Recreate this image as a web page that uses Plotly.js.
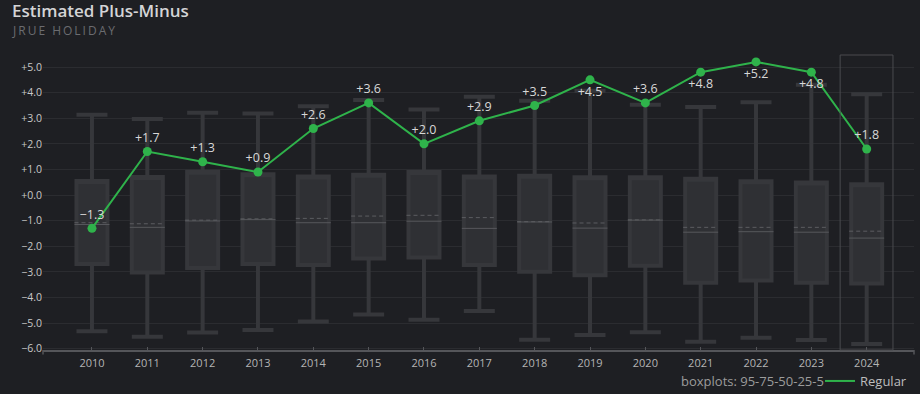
<!DOCTYPE html>
<html>
<head>
<meta charset="utf-8">
<script src="https://cdn.plot.ly/plotly-3.0.1.min.js"></script>
<style>
  html, body { margin: 0; padding: 0; background: #1e1f23; }
  #chart { width: 920px; height: 394px; }
</style>
</head>
<body>
<div id="chart"></div>
<script>
// ---- data ----
const years = [2010, 2011, 2012, 2013, 2014, 2015, 2016, 2017, 2018, 2019, 2020, 2021, 2022, 2023, 2024];
const yearLabels = ['2010','2011','2012','2013','2014','2015','2016','2017','2018','2019','2020','2021','2022','2023','2024'];
const regular = [-1.3, 1.7, 1.3, 0.9, 2.6, 3.6, 2.0, 2.9, 3.5, 4.5, 3.6, 4.8, 5.2, 4.8, 1.8];
const p95 = [3.14, 2.97, 3.21, 3.19, 3.47, 3.71, 3.34, 3.84, 3.68, 4.07, 3.53, 3.44, 3.62, 4.31, 3.94];
const p75 = [0.55, 0.71, 0.91, 0.81, 0.73, 0.79, 0.90, 0.73, 0.75, 0.70, 0.70, 0.64, 0.54, 0.49, 0.42];
const p50 = [-1.15, -1.26, -1.01, -0.96, -1.08, -1.08, -1.02, -1.30, -1.05, -1.29, -0.98, -1.45, -1.43, -1.45, -1.68];
const meanVals = [-1.08, -1.12, -0.98, -0.93, -0.91, -0.82, -0.79, -0.88, -1.04, -1.09, -0.97, -1.26, -1.26, -1.26, -1.41];
const p25 = [-2.69, -3.02, -2.85, -2.69, -2.73, -2.48, -2.44, -2.73, -2.99, -3.13, -2.76, -3.42, -3.34, -3.42, -3.45];
const p5 = [-5.32, -5.53, -5.37, -5.27, -4.94, -4.66, -4.87, -4.53, -5.65, -5.46, -5.36, -5.73, -5.57, -5.66, -5.82];
const yTickVals = [-6, -5, -4, -3, -2, -1, 0, 1, 2, 3, 4, 5];
const yTickText = ['\u22126.0', '\u22125.0', '\u22124.0', '\u22123.0', '\u22122.0', '\u22121.0', '+0.0', '+1.0', '+2.0', '+3.0', '+4.0', '+5.0'];
const highlightYear = 2024;
const titleText = 'Estimated Plus-Minus';
const subtitleText = 'JRUE HOLIDAY';
const boxNote = 'boxplots: 95-75-50-25-5';

// ---- styling ----
const BG = '#1e1f23';
const GREEN = '#2fb34b';
const BOX_FILL = '#2f3034';
const WHISKER = '#36373b';
const BOX_W = 0.56;
const HALF = BOX_W / 2 + 0.036;
const FONT = 'Open Sans, Liberation Sans, sans-serif';

function fmt(v) { return (v < 0 ? '\u2212' : '+') + Math.abs(v).toFixed(1); }

function segs(vals) {
  const xs = [], ys = [];
  years.forEach((yr, i) => { xs.push(yr - HALF, yr + HALF, null); ys.push(vals[i], vals[i], null); });
  return { x: xs, y: ys };
}

const medSeg = segs(p50);
const meanSeg = segs(meanVals);

const traces = [
  {
    type: 'box', x: years, q1: p25, q3: p75, median: p75,
    lowerfence: p5, upperfence: p95,
    width: BOX_W, whiskerwidth: 1,
    fillcolor: BOX_FILL, line: { color: WHISKER, width: 4 },
    showlegend: false, hoverinfo: 'skip', boxpoints: false
  },
  {
    type: 'scatter', mode: 'lines', x: medSeg.x, y: medSeg.y,
    line: { color: '#57585c', width: 1 }, showlegend: false, hoverinfo: 'skip'
  },
  {
    type: 'scatter', mode: 'lines', x: meanSeg.x, y: meanSeg.y,
    line: { color: '#5c5d61', width: 1, dash: '4px,3px' }, showlegend: false, hoverinfo: 'skip'
  },
  {
    type: 'scatter', mode: 'lines', x: years, y: regular, name: 'Regular',
    line: { color: GREEN, width: 2 }, showlegend: true, hoverinfo: 'skip'
  },
  {
    type: 'scatter', mode: 'markers+text', x: years, y: regular,
    marker: { color: GREEN, size: 9 },
    text: regular.map(fmt),
    textposition: regular.map(v => v >= 4.4 ? 'bottom center' : 'top center'),
    textfont: { family: FONT, size: 12.5, color: '#d8d8d8' },
    showlegend: false, hoverinfo: 'skip', cliponaxis: false
  }
];

// pixel -> paper helpers (plot area: x 43..914, y 55..350)
const px = x => (x - 43) / 871;
const py = y => (350 - y) / 295;

const layout = {
  width: 920, height: 394,
  margin: { l: 43, r: 6, t: 55, b: 44, autoexpand: false },
  paper_bgcolor: BG, plot_bgcolor: BG,
  font: { family: FONT, color: '#c8c8c8' },
  boxmode: 'overlay',
  showlegend: true,
  legend: {
    orientation: 'h', xref: 'container', x: 912 / 920, xanchor: 'right',
    yref: 'container', y: (394 - 381) / 394, yanchor: 'middle',
    font: { family: FONT, size: 13, color: '#bdbdbd' }, bgcolor: 'rgba(0,0,0,0)'
  },
  xaxis: {
    range: [2009.115, 2024.855], tickvals: years, ticktext: yearLabels, automargin: false,
    showgrid: false, zeroline: false, showline: true, linecolor: '#55565a', linewidth: 1.5,
    ticks: 'inside', ticklen: 3, tickcolor: '#55565a', ticklabelstandoff: 2,
    tickfont: { family: FONT, size: 11, color: '#b4b4b4' }, fixedrange: true
  },
  yaxis: {
    range: [-6.05, 5.47], tickvals: yTickVals, ticktext: yTickText, automargin: false,
    showgrid: true, gridcolor: '#2b2c30', gridwidth: 1, zeroline: false, showline: false,
    ticks: '', tickfont: { family: FONT, size: 10.5, color: '#c8c8c8' }, fixedrange: true
  },
  shapes: [
    { type: 'rect', xref: 'x', yref: 'paper', x0: highlightYear - 0.48, x1: highlightYear + 0.475, y0: 0, y1: 1,
      line: { color: '#4a4b4f', width: 1 }, fillcolor: 'rgba(0,0,0,0)' },
    { type: 'line', xref: 'paper', yref: 'paper', x0: 0, x1: 0, y0: 0, y1: -0.015, line: { color: '#55565a', width: 1.5 } },
    { type: 'line', xref: 'paper', yref: 'paper', x0: 1, x1: 1, y0: 0, y1: -0.015, line: { color: '#55565a', width: 1.5 } }
  ],
  annotations: [
    { xref: 'paper', yref: 'paper', x: px(12), xanchor: 'left', y: py(11), yanchor: 'middle',
      text: titleText, showarrow: false, borderpad: 0, borderwidth: 0,
      font: { family: FONT, size: 17, color: '#d4d4d6', weight: 600 } },
    { xref: 'paper', yref: 'paper', x: px(12), xanchor: 'left', y: py(30), yanchor: 'middle',
      text: '<span style="letter-spacing:2px">' + subtitleText + '</span>', showarrow: false,
      borderpad: 0, borderwidth: 0,
      font: { family: FONT, size: 12, color: '#6b6c70' } },
    { xref: 'paper', yref: 'paper', x: px(826), xanchor: 'right', y: py(381), yanchor: 'middle',
      text: boxNote, showarrow: false,
      font: { family: FONT, size: 13, color: '#9c9c9c' } }
  ]
};

Plotly.newPlot('chart', traces, layout, { displayModeBar: false, staticPlot: true });
</script>
</body>
</html>
